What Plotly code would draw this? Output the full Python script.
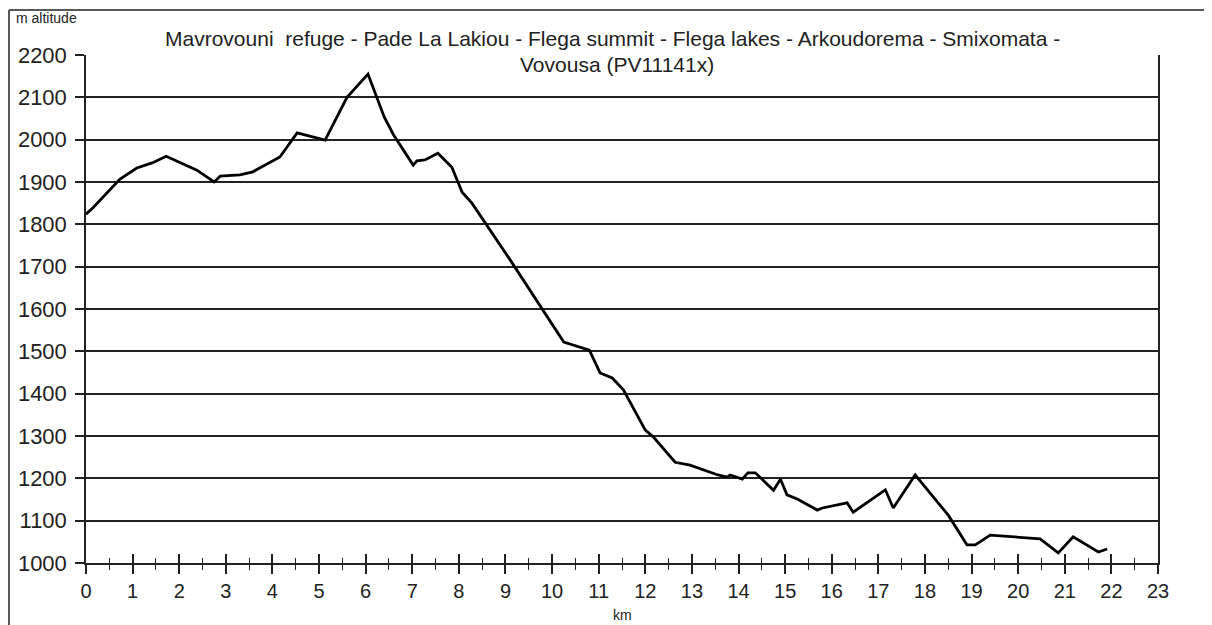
import plotly.graph_objects as go

# 距離(km)と標高(m)
km = [0.0, 0.15, 0.73, 1.09, 1.42, 1.72, 2.38, 2.75, 2.88, 3.3, 3.58, 4.16, 4.53, 5.13,
      5.6, 6.05, 6.4, 6.6, 7.02, 7.1, 7.27, 7.55, 7.85, 8.07, 8.28, 8.45, 8.78, 9.1,
      10.25, 10.8, 11.03, 11.29, 11.53, 12.0, 12.17, 12.64, 12.96, 13.56, 13.75, 13.82,
      14.08, 14.2, 14.36, 14.75, 14.9, 15.04, 15.26, 15.69, 15.8, 16.33, 16.46, 16.89,
      17.15, 17.32, 17.79, 18.5, 18.9, 19.08, 19.4, 20.47, 20.86, 21.18, 21.72, 21.91]
altitude = [1824, 1839, 1907, 1933, 1945, 1961, 1928, 1900, 1914, 1917, 1924, 1959, 2016, 1999,
            2100, 2155, 2053, 2011, 1940, 1950, 1952, 1968, 1935, 1876, 1850, 1822, 1770, 1716,
            1522, 1503, 1449, 1437, 1409, 1314, 1298, 1238, 1231, 1208, 1203, 1208,
            1198, 1213, 1213, 1172, 1198, 1161, 1151, 1125, 1130, 1142, 1120, 1153,
            1173, 1130, 1208, 1113, 1043, 1043, 1066, 1057, 1024, 1062, 1026, 1033]

x_ticks = list(range(0, 24))
y_ticks = list(range(1000, 2201, 100))

title_lines = ["Mavrovouni  refuge - Pade La Lakiou - Flega summit - Flega lakes - Arkoudorema - Smixomata -",
               "Vovousa (PV11141x)"]

# ページ余白(8px)を考慮
OFF = 8
W, H = 1212 - OFF, 625 - OFF
L, T = 86 - OFF, 55 - OFF
pw, ph = 1072, 508
R, B = W - L - pw, H - T - ph


def px(x):
    return (x - OFF - L) / pw


def py(y):
    return (T + ph - (y - OFF)) / ph


fig = go.Figure()
fig.add_trace(go.Scatter(x=km, y=altitude, mode='lines',
                         line=dict(color='black', width=2.8), showlegend=False))
# 内向き目盛用のダミー
fig.add_trace(go.Scatter(x=[0, 23], y=[1000, 1000], xaxis='x2', mode='lines',
                         line=dict(width=0), hoverinfo='skip', showlegend=False))

font = 'Liberation Sans, Arial, sans-serif'

fig.update_layout(
    width=W, height=H,
    margin=dict(l=L, r=R, t=T, b=B, autoexpand=False),
    paper_bgcolor='white', plot_bgcolor='white',
    font=dict(family=font, color='#222'),
    xaxis=dict(range=[0, 23], tickvals=x_ticks, ticks='outside', ticklen=9, tickwidth=1.5,
               tickcolor='#222', showline=True, linecolor='#222', linewidth=1.5,
               showgrid=False, zeroline=False, tickfont=dict(size=20), automargin=False,
               minor=dict(ticks='outside', dtick=0.5, ticklen=5, tickwidth=1.2, tickcolor='#222')),
    xaxis2=dict(range=[0, 23], overlaying='x', tickvals=x_ticks, ticks='inside', ticklen=9,
                tickwidth=1.5, tickcolor='#222', showticklabels=False, showgrid=False,
                zeroline=False, side='bottom', automargin=False,
                minor=dict(ticks='inside', dtick=0.5, ticklen=5, tickwidth=1.2, tickcolor='#222')),
    yaxis=dict(range=[1000, 2200], tickvals=y_ticks, ticks='outside', ticklen=9, tickwidth=1.5,
               tickcolor='#222', showline=True, linecolor='#222', linewidth=1.5, mirror=True,
               showgrid=True, gridcolor='#222', gridwidth=1.5, zeroline=False,
               tickfont=dict(size=22), ticklabelstandoff=4, automargin=False),
)

# 外枠（上と左のみ）
border = dict(color='#222', width=1.5)
fig.add_shape(type='line', xref='paper', yref='paper',
              x0=px(9), x1=px(1230), y0=py(10), y1=py(10), line=border, layer='below')
fig.add_shape(type='line', xref='paper', yref='paper',
              x0=px(9), x1=px(9), y0=py(10), y1=py(640), line=border, layer='below')

fig.add_annotation(x=px(14), y=py(18), xref='paper', yref='paper', text='m altitude',
                   showarrow=False, xanchor='left', yanchor='middle', font=dict(size=14))
fig.add_annotation(x=px(612), y=py(38), xref='paper', yref='paper', text=title_lines[0],
                   showarrow=False, xanchor='center', yanchor='middle', font=dict(size=21))
fig.add_annotation(x=px(617), y=py(65), xref='paper', yref='paper', text=title_lines[1],
                   showarrow=False, xanchor='center', yanchor='middle', font=dict(size=21))
fig.add_annotation(x=px(622), y=py(615), xref='paper', yref='paper', text='km',
                   showarrow=False, xanchor='center', yanchor='middle', font=dict(size=14))

fig.write_html("out.html")
